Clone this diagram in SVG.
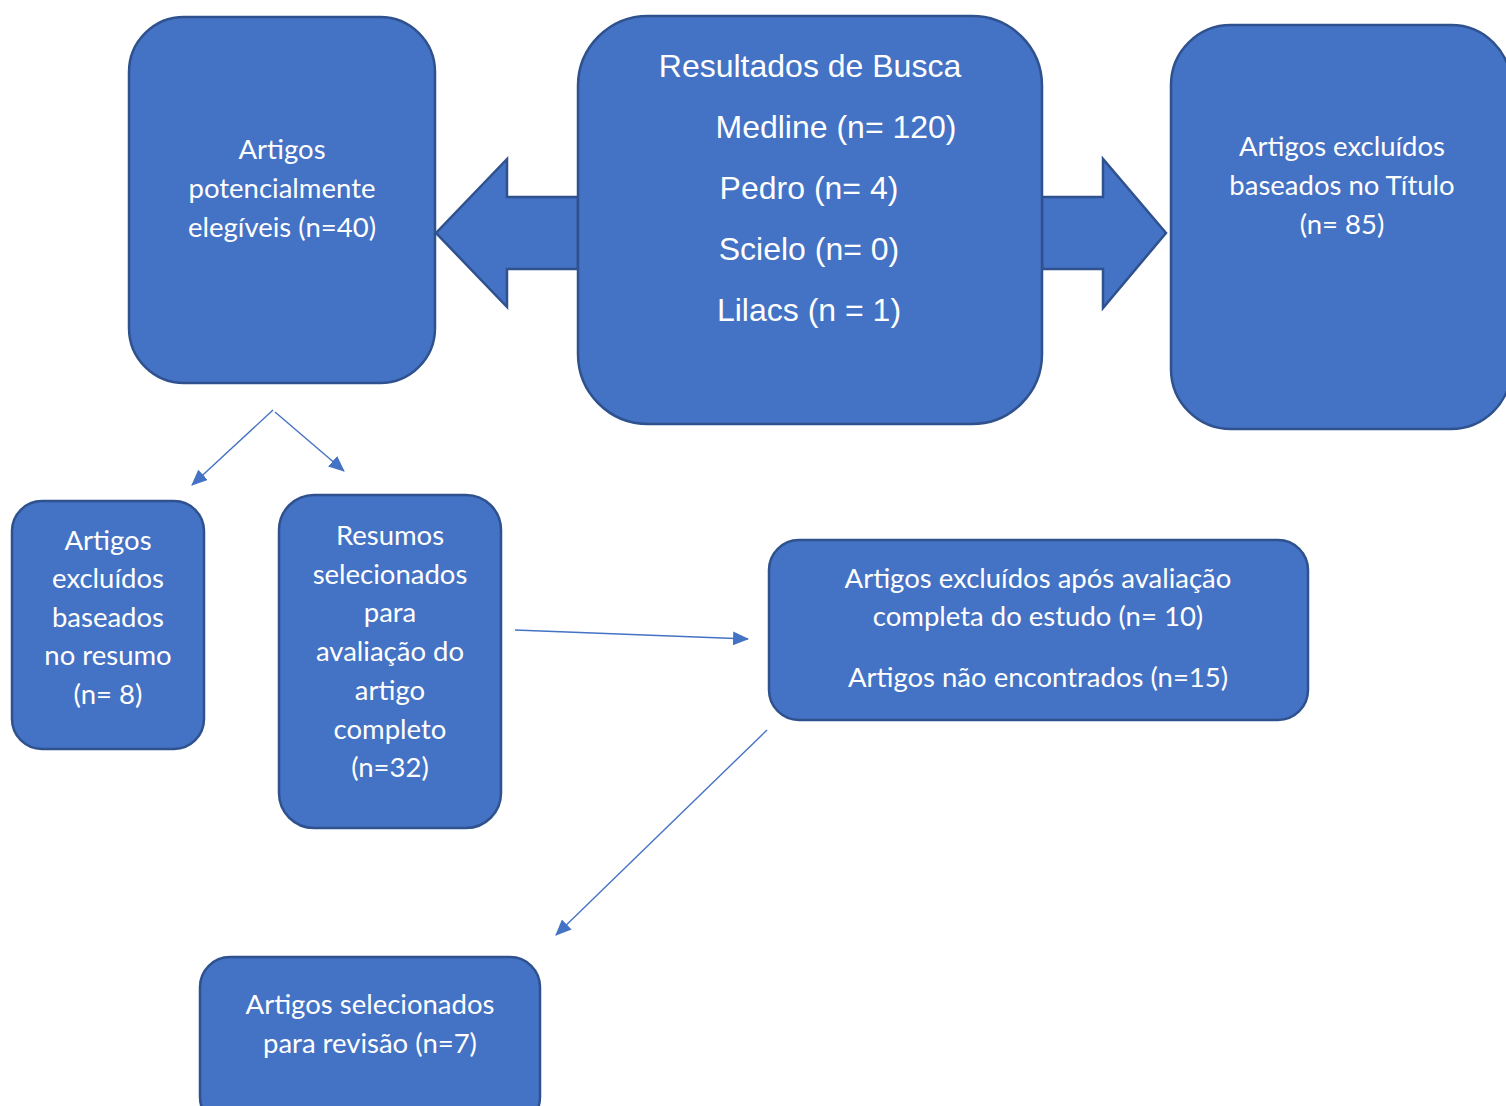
<svg xmlns="http://www.w3.org/2000/svg" width="1506" height="1106" viewBox="0 0 1506 1106">
<style>
.box{fill:#4472C4;stroke:#2F528F;stroke-width:2.5}
.t{font-family:Lato,"Open Sans","Liberation Sans",sans-serif;font-size:27.5px;fill:#fff;text-anchor:middle}
.a{font-family:"Liberation Sans",Arial,sans-serif;font-size:32px;fill:#fff;text-anchor:middle}
.c{stroke:#4472C4;stroke-width:1.4;fill:none;marker-end:url(#ah)}
</style>
<defs>
<marker id="ah" markerWidth="16" markerHeight="14" refX="15" refY="7" orient="auto" markerUnits="userSpaceOnUse">
<path d="M0,0 L16,7 L0,14 Z" fill="#4472C4"/>
</marker>
</defs>
<g id="connectors">
<path class="box" d="M578,197 L507,197 L507,159 L436,233 L507,307 L507,269 L578,269 Z"/>
<path class="box" d="M1042,197 L1103,197 L1103,159 L1166,233 L1103,308 L1103,269 L1042,269 Z"/>
<line class="c" x1="273" y1="410" x2="192" y2="485"/>
<line class="c" x1="275" y1="412" x2="344" y2="471"/>
<line class="c" x1="515" y1="630" x2="748" y2="639"/>
<line class="c" x1="767" y1="730" x2="556" y2="935"/>
</g>
<g id="potenciais">
<rect class="box" x="129" y="17" width="306" height="366" rx="55"/>
<text class="t" x="282" y="159">Artigos</text>
<text class="t" x="282" y="198">potencialmente</text>
<text class="t" x="282" y="237">elegíveis (n=40)</text>
</g>
<g id="busca">
<rect class="box" x="578" y="16" width="464" height="408" rx="70"/>
<text class="a" x="810" y="77">Resultados de Busca</text>
<text class="a" x="836" y="138">Medline (n= 120)</text>
<text class="a" x="809" y="199">Pedro (n= 4)</text>
<text class="a" x="809" y="260">Scielo (n= 0)</text>
<text class="a" x="809" y="321">Lilacs (n = 1)</text>
</g>
<g id="titulo">
<rect class="box" x="1171" y="25" width="340" height="404" rx="60"/>
<text class="t" x="1342" y="156">Artigos excluídos</text>
<text class="t" x="1342" y="195">baseados no Título</text>
<text class="t" x="1342" y="234">(n= 85)</text>
</g>
<g id="resumo">
<rect class="box" x="12" y="501" width="192" height="248" rx="30"/>
<text class="t" x="108" y="550">Artigos</text>
<text class="t" x="108" y="588">excluídos</text>
<text class="t" x="108" y="627">baseados</text>
<text class="t" x="108" y="665">no resumo</text>
<text class="t" x="108" y="704">(n= 8)</text>
</g>
<g id="selecionados">
<rect class="box" x="279" y="495" width="222" height="333" rx="35"/>
<text class="t" x="390" y="545">Resumos</text>
<text class="t" x="390" y="584">selecionados</text>
<text class="t" x="390" y="622">para</text>
<text class="t" x="390" y="661">avaliação do</text>
<text class="t" x="390" y="700">artigo</text>
<text class="t" x="390" y="739">completo</text>
<text class="t" x="390" y="777">(n=32)</text>
</g>
<g id="excluidos">
<rect class="box" x="769" y="540" width="539" height="180" rx="30"/>
<text class="t" x="1038" y="588">Artigos excluídos após avaliação</text>
<text class="t" x="1038" y="626">completa do estudo (n= 10)</text>
<text class="t" x="1038" y="687">Artigos não encontrados (n=15)</text>
</g>
<g id="revisao">
<rect class="box" x="200" y="957" width="340" height="170" rx="30"/>
<text class="t" x="370" y="1014">Artigos selecionados</text>
<text class="t" x="370" y="1053">para revisão (n=7)</text>
</g>
</svg>
